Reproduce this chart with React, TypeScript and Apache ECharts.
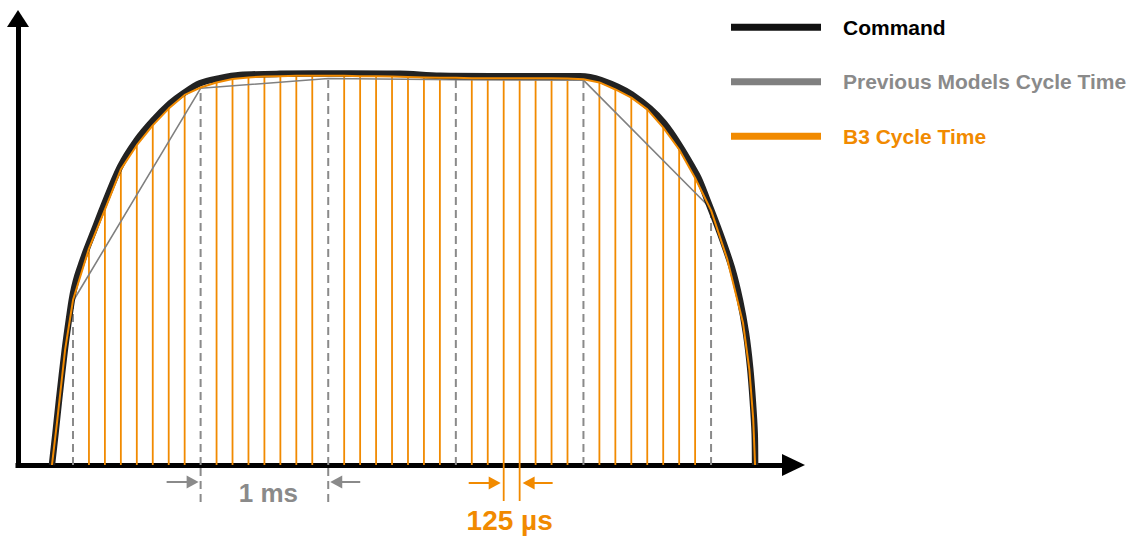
import React, { useEffect, useRef } from 'react';
import * as echarts from 'echarts';

// time in µs (0 = first 1 ms sample), value = command level (plateau ≈ 100)
const commandCurve: [number, number][] = [
  [-165, 0], [-137, 8.2], [-110, 16.5], [-65, 29.3], [-39, 35.7], [-10, 42.2],
  [10, 45.5], [35, 48.6], [69, 51.9], [103, 55.0], [165, 60.2], [235, 66.1],
  [368, 76.4], [499, 83.3], [629, 88.4], [760, 92.7], [864, 95.3],
  [995, 97.9], [1152, 99.2], [1309, 100], [1622, 100.3], [2171, 100.4],
  [2563, 100.3], [2876, 99.8], [3346, 99.7], [3973, 99.7], [4136, 98.7],
  [4378, 95.0], [4632, 87.7], [4888, 74.5], [4969, 68.1], [5071, 59.4],
  [5162, 50.7], [5227, 42.2], [5274, 33.7], [5306, 25.0], [5327, 16.5],
  [5342, 8.0], [5345, 0],
];

// previous models: one sample per 1 ms
const previousSamples: [number, number][] = [
  [0, 42], [1000, 96.6], [2000, 99.1], [3000, 98.8], [4000, 98.7], [5000, 65.7],
];

// B3: one sample per 125 µs (plus the curve's ends on the axis)
const b3Samples: [number, number][] = [
  [-165, 0], [-125, 11], [-62, 29.5], [0, 42.3], [125, 55.5], [250, 65.5],
  [375, 75.8], [500, 82.0], [625, 87.1], [750, 91.4], [875, 94.9], [1000, 96.8],
  [1125, 98.1], [1250, 99.0], [1375, 99.4], [1500, 99.6], [1625, 99.7],
  [1750, 99.8], [1875, 99.8], [2000, 99.8], [2125, 99.8], [2250, 99.7],
  [2375, 99.7], [2500, 99.6], [2625, 99.5], [2750, 99.4], [2875, 99.3],
  [3000, 99.3], [3125, 99.2], [3250, 99.2], [3375, 99.2], [3500, 99.2],
  [3625, 99.2], [3750, 99.2], [3875, 99.1], [4000, 98.9], [4125, 98.1],
  [4250, 96.3], [4375, 94.2], [4500, 91.2], [4625, 86.5], [4750, 80.9],
  [4875, 73.6], [5000, 65.3], [5125, 53.0], [5250, 36.5], [5300, 24.5],
  [5330, 12], [5345, 0],
];

const b3Bars = b3Samples.filter(
  ([t]) => t > 0 && t < 5000 && t % 125 === 0 && t % 1000 !== 0
);

const legendNames = ['Command', 'Previous Models Cycle Time', 'B3 Cycle Time'];
const annotationSpans: [number, number][] = [[1000, 2000], [3375, 3500]];
const annotationLabels = ['1 ms', '125 µs'];

const ORANGE = '#F18A00';
const GRAY = '#8a8a8a';
const GRAY_LINE = '#808080';
const BLACK = '#222222';
const FONT = '"Liberation Sans", Arial, Helvetica, sans-serif';

export default function App() {
  const ref = useRef<HTMLDivElement>(null);

  useEffect(() => {
    if (!ref.current) return;
    const chart = echarts.init(ref.current, undefined, { renderer: 'svg' });

    const arrow = (tipX: number, y: number, dir: number, len: number, color: string) => {
      const head = 12;
      return [
        {
          type: 'line',
          shape: { x1: tipX - dir * len, y1: y, x2: tipX - dir * (head - 2), y2: y },
          style: { stroke: color, lineWidth: 2 },
        },
        {
          type: 'polygon',
          shape: {
            points: [
              [tipX, y],
              [tipX - dir * head, y - 6.5],
              [tipX - dir * head, y + 6.5],
            ],
          },
          style: { fill: color },
        },
      ];
    };

    const option: any = {
      animation: false,
      grid: { left: 18, right: 353.5, top: 18.5, bottom: 71, containLabel: false },
      xAxis: {
        type: 'value',
        min: -431,
        max: 5646,
        axisLine: {
          show: true,
          onZero: false,
          symbol: ['none', 'triangle'],
          symbolSize: [22, 23],
          lineStyle: { color: '#000', width: 5, cap: 'square' },
        },
        axisTick: { show: false },
        axisLabel: { show: false },
        splitLine: { show: false },
      },
      yAxis: {
        type: 'value',
        min: 0,
        max: 114.5,
        axisLine: {
          show: true,
          onZero: false,
          symbol: ['none', 'triangle'],
          symbolSize: [22, 17],
          lineStyle: { color: '#000', width: 5 },
        },
        axisTick: { show: false },
        axisLabel: { show: false },
        splitLine: { show: false },
      },
      legend: {
        orient: 'vertical',
        left: 731,
        top: 15.2,
        padding: 0,
        itemWidth: 90,
        itemHeight: 7,
        itemGap: 30.5,
        selectedMode: false,
        icon: 'rect',
        textStyle: {
          fontFamily: FONT,
          fontWeight: 'bold',
          fontSize: 21,
          lineHeight: 24,
          padding: [0, 0, 0, 17],
        },
        data: [
          { name: legendNames[0], textStyle: { color: '#000' }, itemStyle: { color: '#111' } },
          { name: legendNames[1], textStyle: { color: GRAY } },
          { name: legendNames[2], textStyle: { color: ORANGE } },
        ],
      },
      series: [
        {
          name: 'previous-dashes',
          type: 'custom',
          data: previousSamples,
          encode: { x: 0, y: 1 },
          z: 1,
          renderItem: (params: any, api: any) => {
            const t = api.value(0);
            const v = api.value(1);
            const p0 = api.coord([t, 0]);
            const p1 = api.coord([t, v]);
            return {
              type: 'line',
              shape: { x1: p0[0], y1: p0[1], x2: p1[0], y2: p1[1] },
              style: { stroke: GRAY, lineWidth: 2, lineDash: [8, 5] },
            };
          },
        },
        {
          name: 'b3-bars',
          type: 'custom',
          data: b3Bars,
          encode: { x: 0, y: 1 },
          z: 2,
          renderItem: (params: any, api: any) => {
            const t = api.value(0);
            const v = api.value(1);
            const p0 = api.coord([t, 0]);
            const p1 = api.coord([t, v]);
            return {
              type: 'line',
              shape: { x1: p0[0], y1: p0[1], x2: p1[0], y2: p1[1] },
              style: { stroke: ORANGE, lineWidth: 1.8 },
            };
          },
        },
        {
          name: legendNames[1],
          type: 'line',
          data: previousSamples,
          symbol: 'none',
          z: 3,
          color: GRAY_LINE,
          lineStyle: { color: GRAY_LINE, width: 1.6 },
        },
        {
          name: legendNames[0],
          type: 'line',
          data: commandCurve,
          symbol: 'none',
          smooth: 0.3,
          z: 4,
          color: BLACK,
          lineStyle: { color: BLACK, width: 6.5, join: 'round' },
        },
        {
          name: legendNames[2],
          type: 'line',
          data: b3Samples,
          symbol: 'none',
          z: 5,
          color: ORANGE,
          lineStyle: { color: ORANGE, width: 2 },
        },
        {
          name: 'annotations',
          type: 'custom',
          data: annotationSpans,
          encode: { x: [0, 1] },
          z: 6,
          clip: false,
          renderItem: (params: any, api: any) => {
            const a = api.value(0);
            const b = api.value(1);
            const pa = api.coord([a, 0]);
            const pb = api.coord([b, 0]);
            const y = pa[1];
            const idx = params.dataIndex;
            if (idx === 0) {
              return {
                type: 'group',
                children: [
                  { type: 'line', shape: { x1: pa[0], y1: y + 3, x2: pa[0], y2: y + 41 }, style: { stroke: GRAY, lineWidth: 2, lineDash: [8, 5] } },
                  { type: 'line', shape: { x1: pb[0], y1: y + 3, x2: pb[0], y2: y + 41 }, style: { stroke: GRAY, lineWidth: 2, lineDash: [8, 5] } },
                  ...arrow(pa[0] - 2, y + 17, 1, 32, GRAY),
                  ...arrow(pb[0] + 2, y + 17, -1, 30, GRAY),
                  {
                    type: 'text',
                    x: (pa[0] + pb[0]) / 2 + 4,
                    y: y + 28,
                    style: {
                      text: annotationLabels[idx],
                      fill: GRAY,
                      font: `bold 26px ${FONT}`,
                      align: 'center',
                      verticalAlign: 'middle',
                    },
                  },
                ],
              };
            }
            return {
              type: 'group',
              children: [
                { type: 'line', shape: { x1: pa[0], y1: y, x2: pa[0], y2: y + 36 }, style: { stroke: ORANGE, lineWidth: 1.8 } },
                { type: 'line', shape: { x1: pb[0], y1: y, x2: pb[0], y2: y + 36 }, style: { stroke: ORANGE, lineWidth: 1.8 } },
                ...arrow(pa[0] - 3, y + 18, 1, 32, ORANGE),
                ...arrow(pb[0] + 3, y + 18, -1, 30, ORANGE),
                {
                  type: 'text',
                  x: (pa[0] + pb[0]) / 2 - 2,
                  y: y + 55,
                  style: {
                    text: annotationLabels[idx],
                    fill: ORANGE,
                    font: `bold 28px ${FONT}`,
                    align: 'center',
                    verticalAlign: 'middle',
                  },
                },
              ],
            };
          },
        },
      ],
    };

    chart.setOption(option);
    return () => chart.dispose();
  }, []);

  return (
    <div
      ref={ref}
      style={{ position: 'absolute', left: 0, top: 0, width: 1147, height: 536, background: '#fff' }}
    />
  );
}
